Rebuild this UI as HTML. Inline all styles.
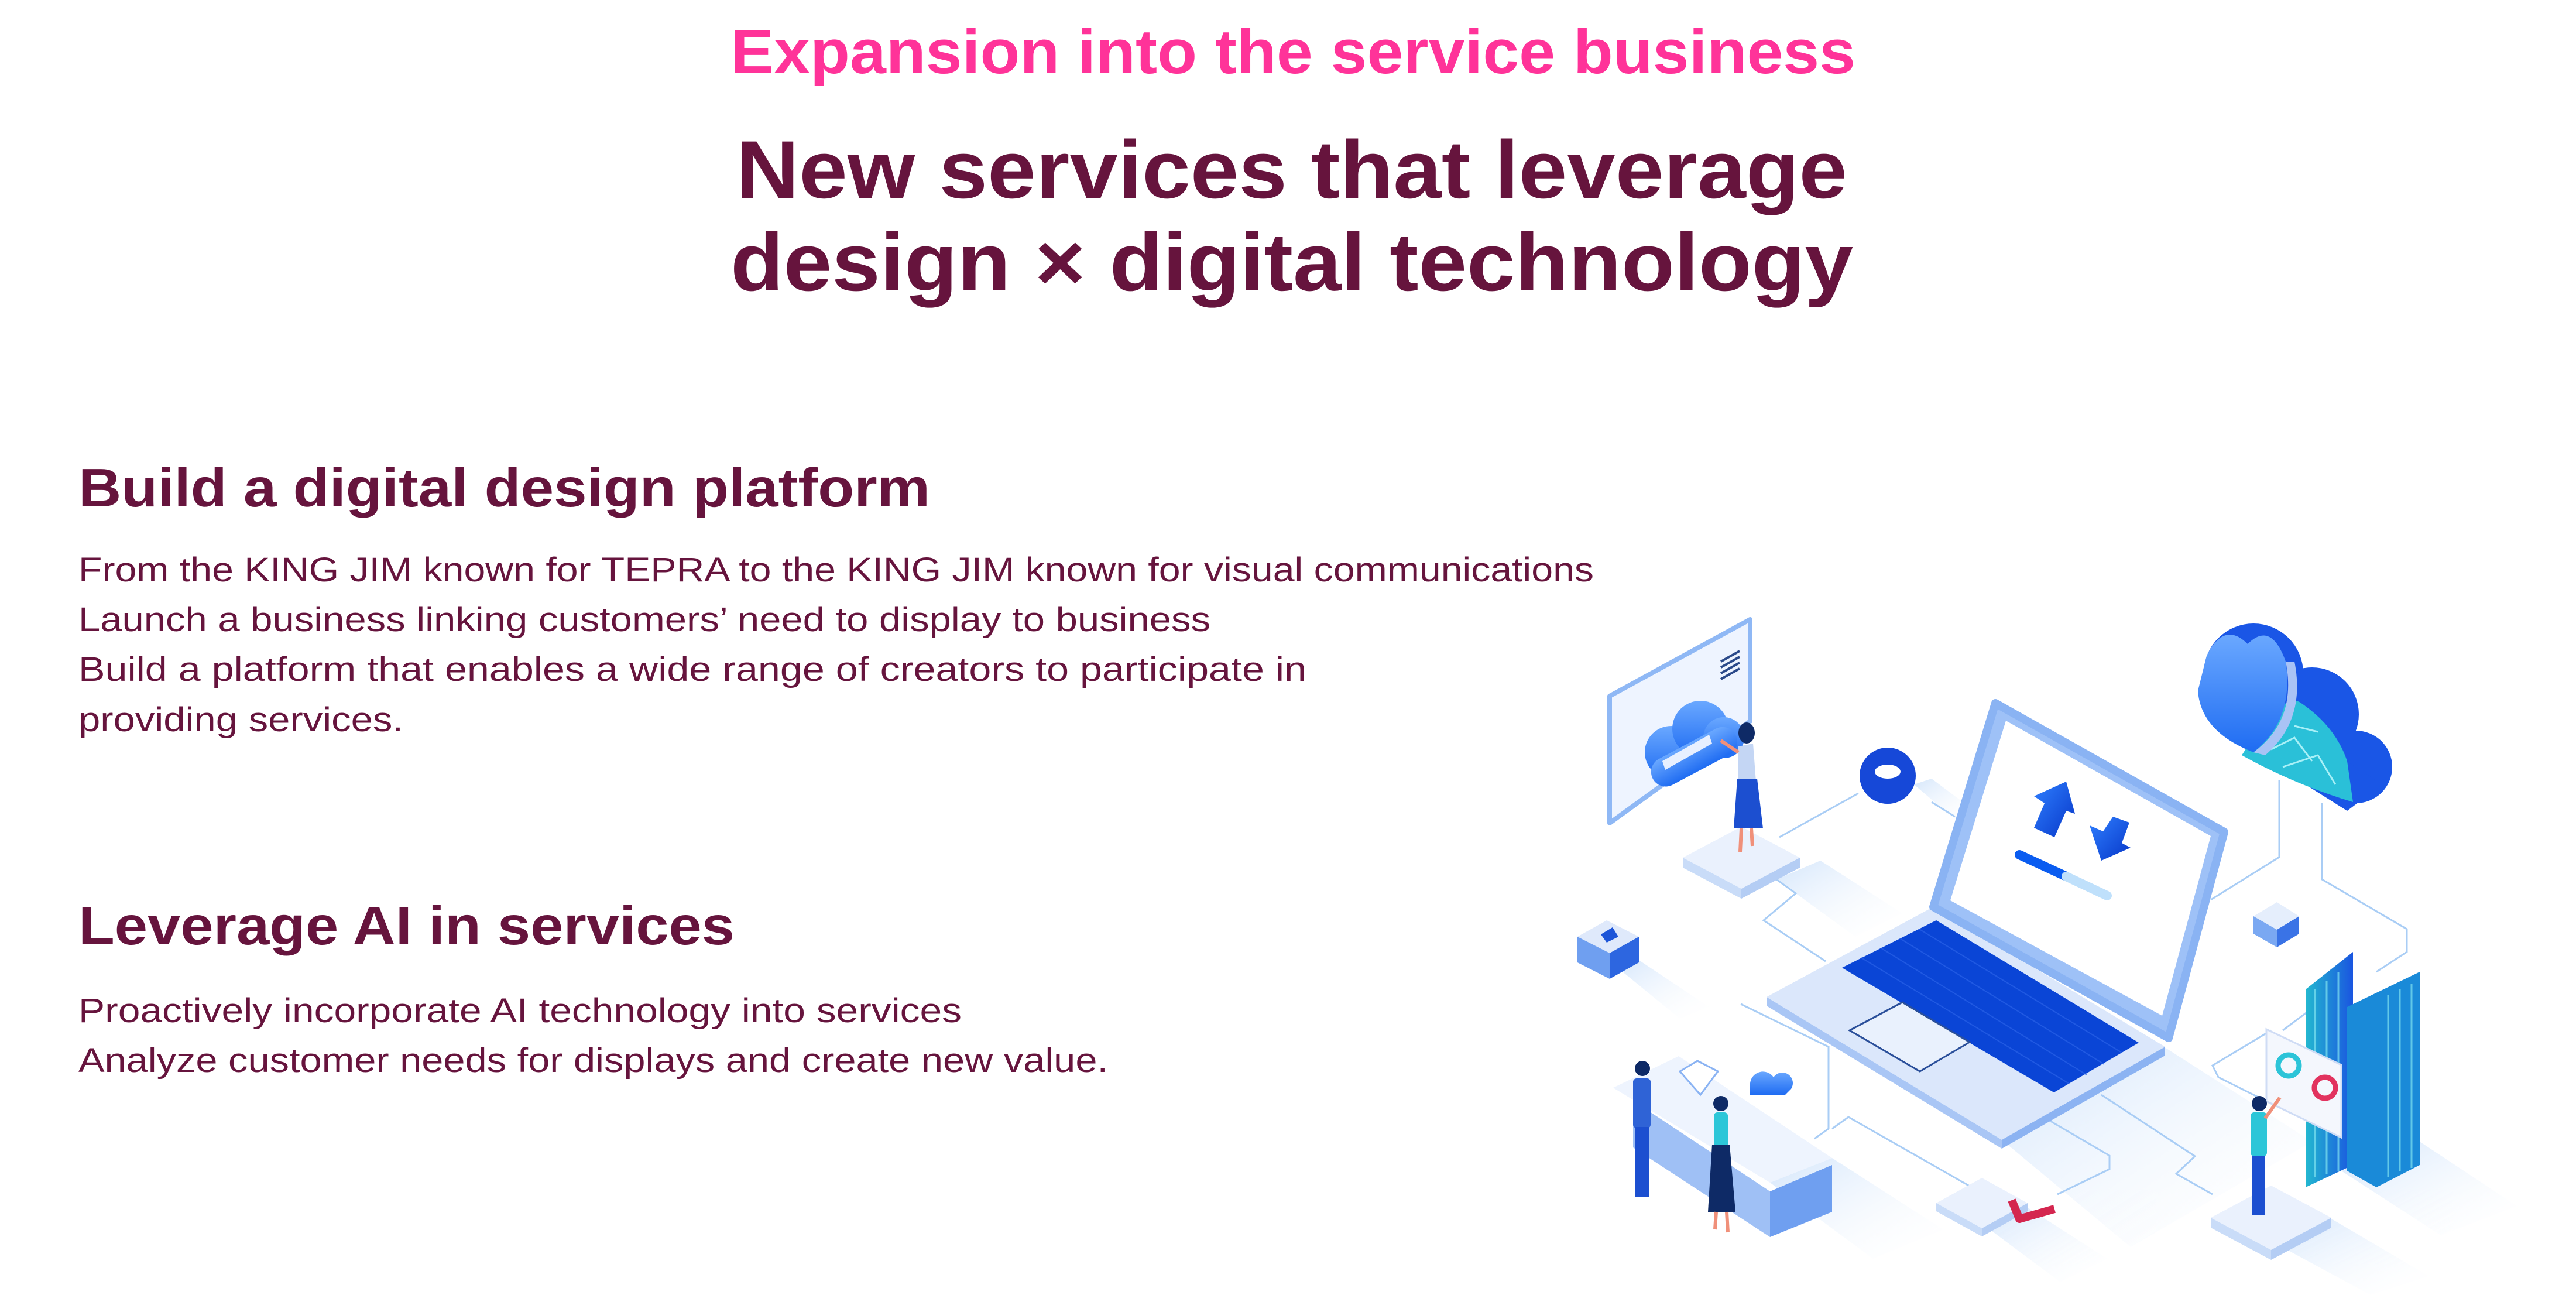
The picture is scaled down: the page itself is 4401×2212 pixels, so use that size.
<!DOCTYPE html>
<html><head><meta charset="utf-8"><style>
html,body{margin:0;padding:0;background:#fff}
svg{display:block}
text{font-family:"Liberation Sans",sans-serif}
</style></head><body>
<svg width="4401" height="2212" viewBox="0 0 4401 2212" xmlns="http://www.w3.org/2000/svg">
<defs>
<linearGradient id="sh" x1="0" y1="0" x2="1" y2="1"><stop offset="0" stop-color="#cfe3fb"/><stop offset="1" stop-color="#ffffff" stop-opacity="0"/></linearGradient>
<linearGradient id="cl" x1="0" y1="0" x2="0" y2="1"><stop offset="0" stop-color="#6aa8ff"/><stop offset="1" stop-color="#1f6cf2"/></linearGradient>
<linearGradient id="ar" x1="0" y1="0" x2="1" y2="1"><stop offset="0" stop-color="#2f7fff"/><stop offset="1" stop-color="#0737c8"/></linearGradient>
<linearGradient id="srv" x1="0" y1="0" x2="1" y2="0"><stop offset="0" stop-color="#23b8d0"/><stop offset="1" stop-color="#1a55e0"/></linearGradient>
</defs>

<text x="1248" y="125" font-size="107" font-weight="bold" fill="#ff3399" textLength="1922" lengthAdjust="spacingAndGlyphs">Expansion into the service business</text>
<text x="1258" y="338" font-size="140" font-weight="bold" fill="#66143d" textLength="1898" lengthAdjust="spacingAndGlyphs">New services that leverage</text>
<text x="1248" y="496" font-size="140" font-weight="bold" fill="#66143d" textLength="1918" lengthAdjust="spacingAndGlyphs">design × digital technology</text>

<text x="134" y="865" font-size="93" font-weight="bold" fill="#66143d" textLength="1455" lengthAdjust="spacingAndGlyphs">Build a digital design platform</text>
<g font-size="58" fill="#66143d">
<text x="134" y="993" textLength="2589" lengthAdjust="spacingAndGlyphs">From the KING JIM known for TEPRA to the KING JIM known for visual communications</text>
<text x="134" y="1078" textLength="1934" lengthAdjust="spacingAndGlyphs">Launch a business linking customers’ need to display to business</text>
<text x="134" y="1163" textLength="2098" lengthAdjust="spacingAndGlyphs">Build a platform that enables a wide range of creators to participate in</text>
<text x="134" y="1249" textLength="555" lengthAdjust="spacingAndGlyphs">providing services.</text>
</g>
<text x="134" y="1613" font-size="93" font-weight="bold" fill="#66143d" textLength="1121" lengthAdjust="spacingAndGlyphs">Leverage AI in services</text>
<g font-size="58" fill="#66143d">
<text x="134" y="1746" textLength="1509" lengthAdjust="spacingAndGlyphs">Proactively incorporate AI technology into services</text>
<text x="134" y="1831" textLength="1759" lengthAdjust="spacingAndGlyphs">Analyze customer needs for displays and create new value.</text>
</g>

<g fill="url(#sh)" opacity="0.9">
<polygon points="3420,1947 3700,1790 3950,1950 3640,2130"/>
<polygon points="3035,1502 3110,1470 3250,1560 3170,1600"/>
<polygon points="3130,1978 3024,2020 3200,2150 3320,2100"/>
<polygon points="4000,2000 4134,1950 4300,2060 4170,2110"/>
<polygon points="3880,2120 3980,2080 4150,2180 4050,2212"/>
<polygon points="3386,2090 3460,2060 3600,2150 3520,2190"/>
<polygon points="2760,1650 2800,1640 2920,1720 2870,1740"/>
<polygon points="3270,1340 3300,1330 3380,1390 3340,1400"/>
</g>

<g fill="none" stroke="#a9cdf5" stroke-width="3">
<polyline points="3894,1332 3894,1464 3777,1537"/>
<polyline points="3967,1371 3967,1502 4112,1587 4112,1626 4060,1660"/>
<polyline points="3175,1355 3040,1430"/>
<polyline points="3300,1370 3340,1395"/>
<polyline points="3035,1502 3068,1526 3013,1572 3119,1642"/>
<polyline points="2974,1715 3124,1788 3124,1928 3100,1945"/>
<polyline points="3130,1928 3158,1908 3409,2051"/>
<polyline points="3498,1912 3604,1974 3604,1997 3515,2040"/>
<polyline points="3590,1870 3750,1975 3718,2005 3780,2040"/>
<polyline points="3880,1760 3780,1820 3790,1840 3880,1885"/>
<polyline points="3900,1760 3940,1730"/>
</g>

<polygon points="2750,1189 2990,1058 2990,1232 2750,1406" fill="#eef4ff" stroke="#8fb8f5" stroke-width="8" stroke-linejoin="round"/>
<g stroke="#2b4a8a" stroke-width="4"><line x1="2940" y1="1130" x2="2972" y2="1112"/><line x1="2940" y1="1140" x2="2972" y2="1122"/><line x1="2940" y1="1150" x2="2972" y2="1132"/><line x1="2940" y1="1160" x2="2972" y2="1142"/></g>
<g fill="url(#cl)"><circle cx="2855" cy="1285" r="45"/><circle cx="2905" cy="1245" r="48"/><circle cx="2945" cy="1260" r="35"/><rect x="2815" y="1270" width="160" height="50" rx="25" transform="rotate(-28 2890 1295)"/></g>
<polygon points="2840,1300 2920,1255 2925,1270 2845,1315" fill="#e8f0ff"/>

<polygon points="2875,1465 2975,1412 3075,1465 2975,1518" fill="#eaf1fd"/>
<polygon points="2875,1465 2975,1518 2975,1535 2875,1482" fill="#c9dcf8"/>
<polygon points="2975,1518 3075,1465 3075,1482 2975,1535" fill="#b4cdf4"/>
<ellipse cx="2984" cy="1252" rx="14" ry="18" fill="#0e2a66"/>
<path d="M2970,1275 L2995,1270 L3000,1335 L2970,1335Z" fill="#c4d6f4"/>
<path d="M2968,1330 L3002,1330 L3012,1415 L2962,1415Z" fill="#1c4fd0"/>
<line x1="2975" y1="1415" x2="2973" y2="1455" stroke="#f0907a" stroke-width="6"/>
<line x1="2992" y1="1415" x2="2994" y2="1445" stroke="#f0907a" stroke-width="6"/>
<line x1="2970" y1="1285" x2="2940" y2="1265" stroke="#f0907a" stroke-width="6"/>

<circle cx="3225" cy="1325" r="48" fill="#1648d8"/>
<ellipse cx="3225" cy="1318" rx="22" ry="12" fill="#fff"/>

<polygon points="2695,1600 2745,1572 2800,1600 2750,1628" fill="#dfe9fb"/>
<polygon points="2695,1600 2750,1628 2750,1672 2695,1644" fill="#6f9ff0"/>
<polygon points="2750,1628 2800,1600 2800,1644 2750,1672" fill="#2d66e0"/>
<polygon points="2735,1596 2755,1584 2765,1600 2745,1610" fill="#1d55d8"/>

<polygon points="3850,1565 3890,1541 3928,1565 3890,1588" fill="#e5eefc"/>
<polygon points="3850,1565 3890,1588 3890,1618 3850,1595" fill="#7aa8f2"/>
<polygon points="3890,1588 3928,1565 3928,1595 3890,1618" fill="#3a73e6"/>

<polygon points="3018,1703 3303,1549 3699,1788 3420,1947" fill="#dbe7fb"/>
<polygon points="3018,1703 3420,1947 3420,1962 3018,1718" fill="#a9c6f5"/>
<polygon points="3420,1947 3699,1788 3699,1803 3420,1962" fill="#8cb3f2"/>
<polygon points="3147,1653 3308,1572 3654,1781 3509,1866" fill="#0a45d6"/>
<g stroke="#2a62e8" stroke-width="2" opacity="0.7">
<line x1="3180" y1="1636" x2="3535" y2="1851"/><line x1="3213" y1="1619" x2="3565" y2="1836"/><line x1="3246" y1="1603" x2="3595" y2="1818"/><line x1="3279" y1="1587" x2="3625" y2="1798"/>
</g>
<polygon points="3160,1760 3250,1712 3365,1780 3280,1830" fill="#e9f1fd" stroke="#2a4f9a" stroke-width="3"/>
<polygon points="3409,1201 3800,1421 3705,1773 3303,1549" fill="#9ec1f7" stroke="#8ab3f3" stroke-width="14" stroke-linejoin="round"/>
<polygon points="3427,1231 3777,1428 3694,1735 3332,1538" fill="#ffffff"/>
<polygon points="3475,1360 3530,1335 3545,1390 3530,1385 3510,1430 3475,1414 3493,1372" fill="url(#ar)"/>
<polygon points="3610,1395 3638,1405 3625,1440 3640,1448 3590,1470 3570,1410 3593,1420" fill="url(#ar)"/>
<line x1="3450" y1="1460" x2="3530" y2="1497" stroke="#0a5cf0" stroke-width="16" stroke-linecap="round"/>
<line x1="3530" y1="1497" x2="3600" y2="1530" stroke="#bfe0fb" stroke-width="16" stroke-linecap="round"/>

<g>
<circle cx="3850" cy="1150" r="85" fill="#1a56e6"/>
<circle cx="3950" cy="1220" r="80" fill="#1a56e6"/>
<circle cx="4025" cy="1310" r="62" fill="#1a56e6"/>
<polygon points="3780,1240 4010,1385 4070,1340 3840,1190" fill="#1a56e6"/>
<path d="M3830,1290 Q3900,1180 3930,1200 Q3990,1240 4010,1300 L4020,1370 Q3920,1340 3830,1290Z" fill="#2ac0d8"/>
<g stroke="#a8f0f7" stroke-width="3" fill="none"><polyline points="3880,1280 3920,1260 3950,1300"/><polyline points="3900,1310 3960,1290 3990,1340"/><polyline points="3920,1240 3960,1250"/></g>
<path d="M3770,1120 Q3800,1060 3840,1100 Q3880,1060 3905,1130 Q3920,1230 3850,1285 Q3760,1250 3755,1180Z" fill="url(#cl)"/>
<path d="M3905,1130 Q3925,1230 3850,1285 L3870,1290 Q3940,1230 3920,1130Z" fill="#a9c3f5"/>
</g>

<polygon points="3939,1690 4020,1626 4020,1990 3939,2028" fill="url(#srv)"/>
<polygon points="4010,1720 4134,1660 4134,1990 4060,2028 4010,2000" fill="#1a8ad8"/>
<g stroke="#7fe3f0" stroke-width="3" opacity="0.7">
<line x1="3955" y1="1690" x2="3955" y2="2010"/><line x1="3975" y1="1675" x2="3975" y2="2005"/><line x1="3995" y1="1660" x2="3995" y2="2000"/>
<line x1="4080" y1="1700" x2="4080" y2="2010"/><line x1="4100" y1="1690" x2="4100" y2="2000"/><line x1="4120" y1="1680" x2="4120" y2="1995"/>
</g>

<polygon points="3872,1758 4000,1819 4000,1943 3872,1881" fill="#f4f7fd" stroke="#cfdcf5" stroke-width="3"/>
<circle cx="3910" cy="1820" r="18" fill="none" stroke="#2cc4d8" stroke-width="9"/>
<circle cx="3972" cy="1858" r="18" fill="none" stroke="#e2335f" stroke-width="9"/>

<polygon points="3777,2080 3880,2025 3983,2080 3880,2135" fill="#eaf1fd"/>
<polygon points="3777,2080 3880,2135 3880,2152 3777,2097" fill="#c9dcf8"/>
<polygon points="3880,2135 3983,2080 3983,2097 3880,2152" fill="#b4cdf4"/>
<circle cx="3860" cy="1885" r="13" fill="#0e2a66"/>
<rect x="3845" y="1900" width="28" height="75" rx="6" fill="#2cc6d8"/>
<rect x="3848" y="1975" width="22" height="100" fill="#1c4fd0"/>
<line x1="3870" y1="1910" x2="3895" y2="1875" stroke="#f0907a" stroke-width="6"/>

<polygon points="3308,2055 3386,2012 3464,2055 3386,2098" fill="#eaf1fd"/>
<polygon points="3308,2055 3386,2098 3386,2112 3308,2069" fill="#c9dcf8"/>
<polygon points="3386,2098 3464,2055 3464,2069 3386,2112" fill="#b4cdf4"/>
<polyline points="3437,2050 3450,2082 3510,2065" fill="none" stroke="#d4264f" stroke-width="14" stroke-linejoin="round"/>

<polygon points="2756,1858 2868,1804 3130,1978 3024,2020" fill="#eef4fe"/>
<polygon points="2790,1880 3024,2035 3024,2113 2790,1960" fill="#9fc0f5"/>
<polygon points="3024,2035 3130,1990 3130,2070 3024,2113" fill="#6f9ff0"/>
<polygon points="2870,1830 2900,1812 2935,1830 2905,1870" fill="#ffffff" stroke="#8ab3f3" stroke-width="3"/>
<path d="M2990,1850 a22,22 0 0 1 40,-10 a18,18 0 0 1 30,20 l-10,10 l-60,0z" fill="url(#cl)"/>
<circle cx="2806" cy="1825" r="13" fill="#0e2a66"/>
<rect x="2790" y="1842" width="30" height="85" rx="6" fill="#2f63d6"/>
<rect x="2793" y="1925" width="24" height="120" fill="#1c4fd0"/>
<circle cx="2940" cy="1885" r="13" fill="#0e2a66"/>
<rect x="2928" y="1900" width="24" height="60" rx="6" fill="#2cc6d8"/>
<path d="M2925,1955 L2955,1955 L2965,2070 L2918,2070Z" fill="#0e2a66"/>
<line x1="2932" y1="2070" x2="2930" y2="2100" stroke="#f0907a" stroke-width="6"/>
<line x1="2950" y1="2070" x2="2952" y2="2105" stroke="#f0907a" stroke-width="6"/>
</svg>
</body></html>
